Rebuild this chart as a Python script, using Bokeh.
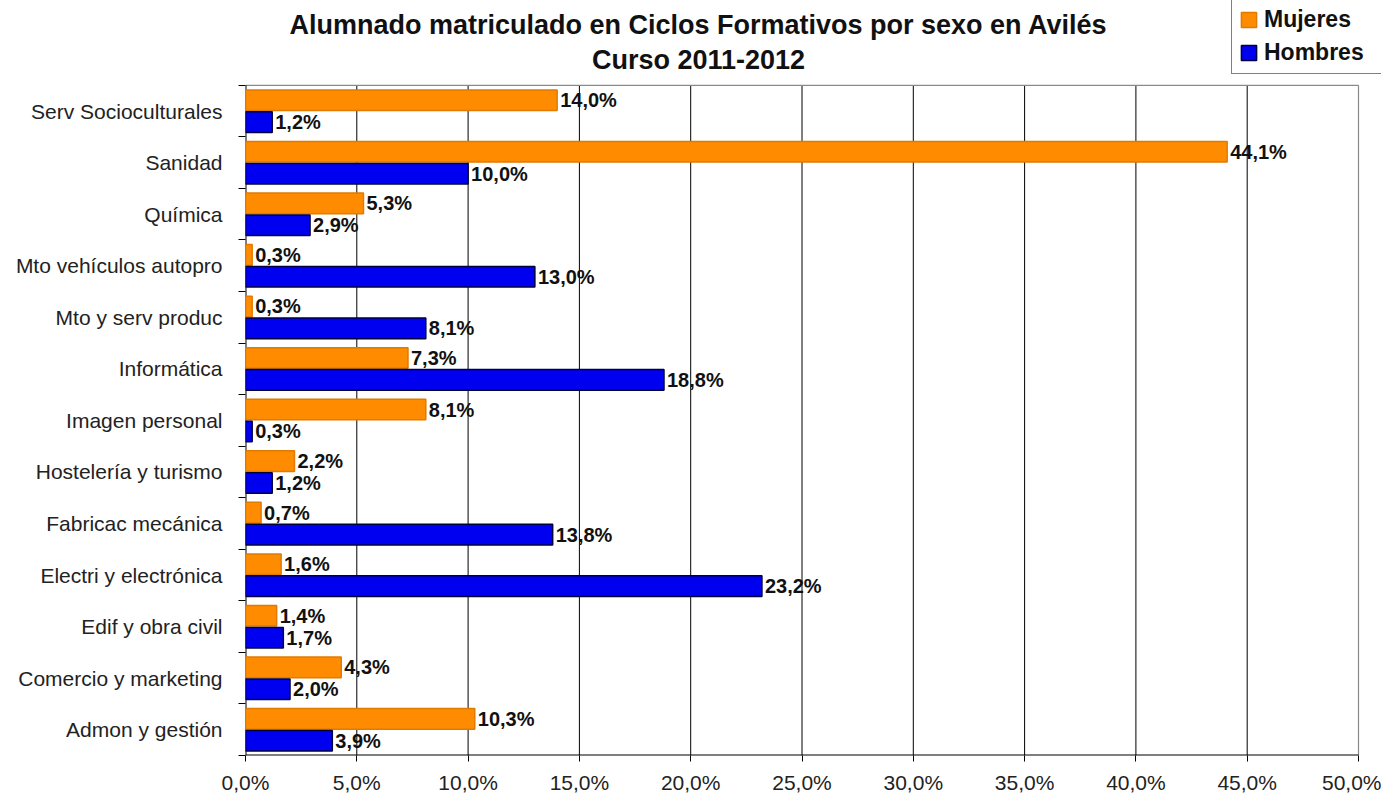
from bokeh.plotting import figure
from bokeh.models import FixedTicker, Label, Legend, LegendItem, ColumnDataSource
from bokeh.embed import file_html
from bokeh.resources import INLINE
from bokeh.core.properties import value

# ---- data (bottom to top) ----
categories = ["Admon y gestión", "Comercio y marketing", "Edif y obra civil",
              "Electri y electrónica", "Fabricac mecánica", "Hostelería y turismo",
              "Imagen personal", "Informática", "Mto y serv produc",
              "Mto vehículos autopro", "Química", "Sanidad", "Serv Socioculturales"]
mujeres = [10.3, 4.3, 1.4, 1.6, 0.7, 2.2, 8.1, 7.3, 0.3, 0.3, 5.3, 44.1, 14.0]
hombres = [3.9, 2.0, 1.7, 23.2, 13.8, 1.2, 0.3, 18.8, 8.1, 13.0, 2.9, 10.0, 1.2]
series_names = ["Mujeres", "Hombres"]
x_ticks = [0, 5, 10, 15, 20, 25, 30, 35, 40, 45, 50]
x_tick_labels = ["0,0%", "5,0%", "10,0%", "15,0%", "20,0%", "25,0%",
                 "30,0%", "35,0%", "40,0%", "45,0%", "50,0%"]
title_lines = ["Alumnado matriculado en Ciclos Formativos por sexo en Avilés",
               "Curso 2011-2012"]

FONT = "Liberation Sans"
ORANGE = "#FF8C00"
ORANGE_EDGE = "#E07A00"
BLUE = "#0000F0"
BLUE_EDGE = "#000040"

def fmt(v):
    return f"{v:.1f}".replace(".", ",") + "%"

n = len(categories)
x_max = x_ticks[-1]
centers = [i + 0.5 for i in range(n)]
bounds = [float(i) for i in range(n + 1)]
pos_m = [c + 0.21 for c in centers]
pos_h = [c - 0.215 for c in centers]

src_m = ColumnDataSource(dict(y=pos_m, v=mujeres, lab=[fmt(v) for v in mujeres]))
src_h = ColumnDataSource(dict(y=pos_h, v=hombres, lab=[fmt(v) for v in hombres]))

# Layout: plot area from x=245..1358 px, y=85..757 px; the frame is extended
# up to the top and right edge so the title and legend can live inside it.
W, H = 1381, 796
left_px, right_px, top_px, bottom_px = 245, 1358, 85, 757
px_per_x = (right_px - left_px) / x_max
px_per_y = (bottom_px - top_px) / n
x_end = x_max + (W - right_px) / px_per_x
y_end = n + top_px / px_per_y

p = figure(width=W, height=H, x_range=(0, x_end), y_range=(0, y_end),
           output_backend="svg", toolbar_location=None,
           min_border_left=left_px, min_border_right=0,
           min_border_top=0, min_border_bottom=H - bottom_px)

p.outline_line_color = None
p.background_fill_color = "white"
p.xgrid.visible = False
p.ygrid.visible = False

# gridlines / frame drawn within the data area
p.segment(x0=x_ticks[1:-1], y0=0, x1=x_ticks[1:-1], y1=n,
          line_color="#000000", line_width=1)
p.segment(x0=[0, x_max], y0=[n, 0], x1=[x_max, x_max], y1=[n, n],
          line_color="#8a8a8a", line_width=1.2)
p.segment(x0=[0, 0], y0=[0, 0], x1=[x_max, 0], y1=[0, n],
          line_color="#000000", line_width=2)

# x axis
p.xaxis.ticker = FixedTicker(ticks=x_ticks, minor_ticks=[])
p.xaxis.major_label_overrides = dict(zip(x_ticks, x_tick_labels))
p.xaxis.major_tick_in = 0
p.xaxis.major_tick_out = 6
p.xaxis.minor_tick_line_color = None
p.xaxis.axis_line_color = None
p.xaxis.major_tick_line_color = "black"
p.xaxis.major_label_text_font = FONT
p.xaxis.major_label_text_font_size = "21px"
p.xaxis.major_label_text_color = "#222222"
p.xaxis.major_label_standoff = 9

# y axis
p.yaxis.ticker = FixedTicker(ticks=centers, minor_ticks=bounds)
p.yaxis.major_label_overrides = dict(zip(centers, categories))
p.yaxis.major_tick_in = 0
p.yaxis.major_tick_out = 0
p.yaxis.minor_tick_in = 0
p.yaxis.minor_tick_out = 7
p.yaxis.minor_tick_line_color = "black"
p.yaxis.axis_line_color = None
p.yaxis.major_label_text_font = FONT
p.yaxis.major_label_text_font_size = "21px"
p.yaxis.major_label_text_color = "#222222"
p.yaxis.major_label_standoff = 16

# bars
r_m = p.hbar(y="y", right="v", left=0, height=0.4, source=src_m,
             fill_color=ORANGE, line_color=ORANGE_EDGE, line_width=1.5)
r_h = p.hbar(y="y", right="v", left=0, height=0.4, source=src_h,
             fill_color=BLUE, line_color=BLUE_EDGE, line_width=1.5)

# data labels
for src in (src_m, src_h):
    p.text(x="v", y="y", text="lab", source=src, x_offset=3,
           text_baseline="middle", text_align="left",
           text_font=value(FONT), text_font_style="bold",
           text_font_size="20px", text_color="#111111")

# title: two centered lines above the plot area
title_x = (698 - left_px) / px_per_x
p.add_layout(Label(x=title_x, y=n + (top_px - 25) / px_per_y, text=title_lines[0],
                   text_align="center", text_baseline="middle", text_font=FONT,
                   text_font_style="bold", text_font_size="27px", text_color="#111111"))
p.add_layout(Label(x=title_x, y=n + (top_px - 60) / px_per_y, text=title_lines[1],
                   text_align="center", text_baseline="middle", text_font=FONT,
                   text_font_style="bold", text_font_size="27px", text_color="#111111"))

# legend (top right, partially above the plot area)
legend = Legend(items=[LegendItem(label=series_names[0], renderers=[r_m]),
                       LegendItem(label=series_names[1], renderers=[r_h])],
                location=(1231 - left_px, bottom_px - 76), padding=7, spacing=6, margin=0,
                glyph_width=19, glyph_height=19, label_height=20,
                label_width=110, label_standoff=6,
                label_text_font=FONT, label_text_font_style="bold",
                label_text_font_size="23px", label_text_color="#111111",
                border_line_color="black", border_line_width=1.5,
                background_fill_color="white", background_fill_alpha=1.0)
p.add_layout(legend)

open("out.html", "w").write(file_html(p, INLINE))
